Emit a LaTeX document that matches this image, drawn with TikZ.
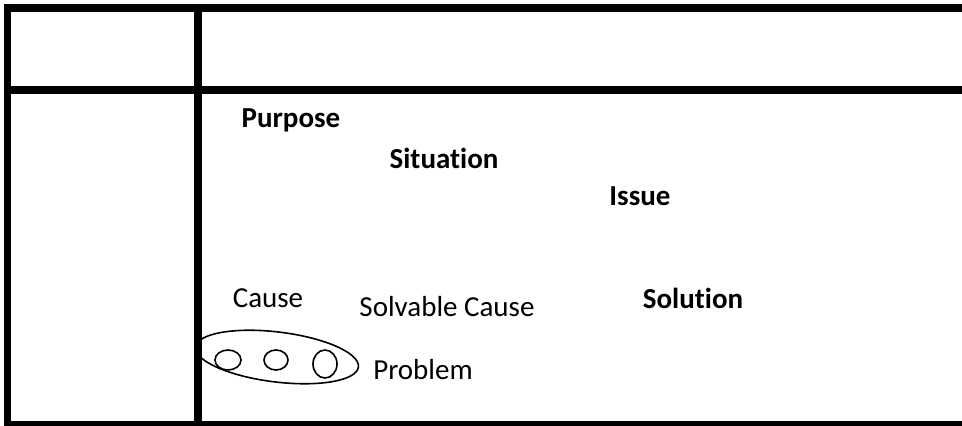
\documentclass[tikz,border=0pt]{standalone}
\usepackage{fontspec}
\setmainfont{Carlito}[Ligatures=NoCommon,Contextuals=NoAlternate]
\usetikzlibrary{positioning}

\begin{document}
\begin{tikzpicture}[x=1pt,y=1pt,
  rule/.style={line width=7.5pt},
  head/.style={font=\fontsize{29}{32}\selectfont\bfseries,inner sep=0pt},
  word/.style={font=\fontsize{29}{32}\selectfont,inner sep=0pt},
  ring/.style={line width=1.6pt}]
\useasboundingbox (0,0) rectangle (962,426);
% frame of the table
\draw[rule] (962,418) -- (7.5,418) -- (7.5,-4);
\draw[rule] (7.5,336) -- (962,336);
\draw[rule] (198,418) -- (198,-4);
\draw[rule] (7.5,1) -- (962,1);
% labels
\node[head] (purpose) at (291,306) {Purpose};
\node[head] (situation) at (444,268) {Situation};
\node[head] (issue) at (640,230) {Issue};
\node[head] (solution) at (693,128) {Solution};
\node[word] (cause) at (268,128) {Cause};
\node[word] (solvable) at (447,119) {Solvable Cause};
\node[word] (problem) at (423,56) {Problem};
% group of causes
\draw[ring,rotate around={-7:(277,69)}] (277,69) ellipse (82 and 25);
\draw[ring] (228,66) ellipse (13 and 10);
\draw[ring] (276,66) ellipse (12 and 10);
\draw[ring] (325,62) ellipse (12 and 14);
\end{tikzpicture}
\end{document}
